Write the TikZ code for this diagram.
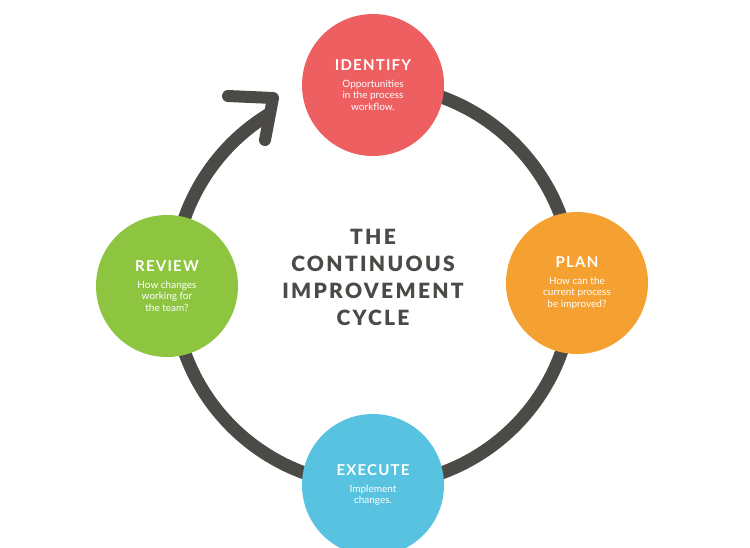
\documentclass[tikz,border=0pt]{standalone}
\usepackage{fontspec}
\setmainfont{Lato}
\newfontfamily\spaced[LetterSpace=11]{Lato Black}
\newfontfamily\spacedb[LetterSpace=8]{Lato Bold}
\usetikzlibrary{arrows.meta}
\definecolor{ring}{HTML}{4B4A46}
\definecolor{cid}{HTML}{EE5F61}
\definecolor{cpl}{HTML}{F5A131}
\definecolor{cex}{HTML}{57C3E0}
\definecolor{crv}{HTML}{8DC540}
\begin{document}
\begin{tikzpicture}[x=1pt,y=-1pt,
  stage/.style={circle,minimum size=142pt,inner sep=0pt,text=white,align=center,font=\fontsize{10}{11.5}\selectfont},
  ttl/.style={font=\fontsize{14}{16}\spacedb}]
\useasboundingbox[fill=white] (0,0) rectangle (750,547);
\coordinate (c) at (373,285);
\draw[ring,line width=13pt] (373,485) arc[start angle=90,end angle=180,radius=200]
  arc[start angle=180,end angle=239,radius=200];
\draw[ring,line width=13pt] (373,85) arc[start angle=-90,end angle=90,radius=200];
\draw[ring,line width=12pt,line cap=round,line join=round] (228,96) -- (273,98) -- (265,140);
\node[stage,fill=cid] (id) at (373,85) {{\fontsize{15}{17}\spacedb IDENTIFY}\\[5pt]Opportunities\\in the process\\workflow.};
\node[stage,fill=cpl] (pl) at (577,283) {{\fontsize{15}{17}\spacedb PLAN}\\[5pt]How can the\\current process\\be improved?};
\node[stage,fill=cex] (ex) at (373,485) {{\fontsize{15}{17}\spacedb EXECUTE}\\[5pt]Implement\\changes.};
\node[stage,fill=crv] (rv) at (167,286) {{\fontsize{15}{17}\spacedb REVIEW}\\[5pt]How changes\\working for\\the team?};
\node[align=center,text=ring,font=\fontsize{21}{27}\spaced] (t) at (373,277) {THE\\CONTINUOUS\\IMPROVEMENT\\CYCLE};
\end{tikzpicture}
\end{document}
